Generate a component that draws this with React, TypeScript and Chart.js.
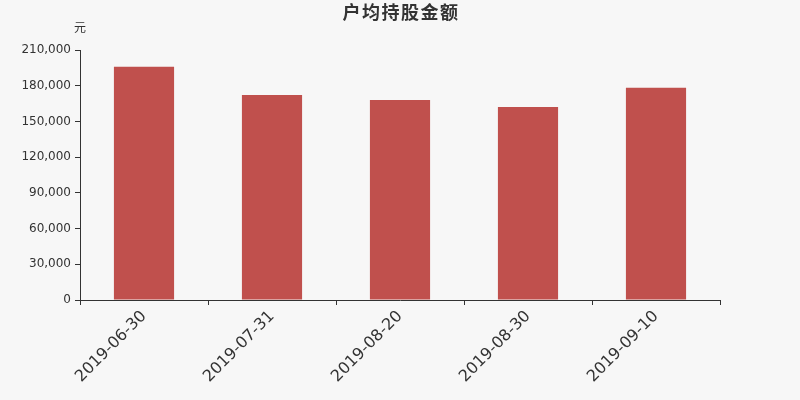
import React, { useEffect, useRef } from "react";
import Chart from "chart.js/auto";

const dates = ["2019-06-30", "2019-07-31", "2019-08-20", "2019-08-30", "2019-09-10"];
const amounts = [196000, 172200, 168000, 162100, 178300];
const chartTitle = "户均持股金额";
const unitLabel = "元";

const FONT = '"DejaVu Sans", "Noto Sans CJK SC", sans-serif';
const TEXT = "#333333";
const BG = "#f7f7f7";

// fond + titre + unité dessinés directement sur le canvas
const decorPlugin = {
  id: "decor",
  beforeDraw(chart: Chart) {
    const { ctx, width, height } = chart;
    ctx.save();
    ctx.fillStyle = BG;
    ctx.fillRect(0, 0, width, height);
    ctx.restore();
  },
  afterDraw(chart: Chart) {
    const { ctx, chartArea } = chart;
    ctx.save();
    ctx.fillStyle = TEXT;
    ctx.textAlign = "center";
    ctx.textBaseline = "middle";
    ctx.font = `bold 18px ${FONT}`;
    (ctx as any).letterSpacing = "1.5px";
    ctx.fillText(chartTitle, chart.width / 2 + 1, 14);
    (ctx as any).letterSpacing = "0px";
    ctx.font = `12px ${FONT}`;
    ctx.fillText(unitLabel, chartArea.left, 29);
    ctx.restore();
  },
};

export default function App() {
  const canvasRef = useRef<HTMLCanvasElement>(null);
  const chartInstance = useRef<Chart | null>(null);

  useEffect(() => {
    document.body.style.margin = "0";
    document.body.style.background = BG;
    if (!canvasRef.current) return;
    const ctx = canvasRef.current.getContext("2d");
    if (!ctx) return;

    chartInstance.current = new Chart(ctx, {
      type: "bar",
      data: {
        labels: dates,
        datasets: [
          {
            label: chartTitle,
            data: amounts,
            backgroundColor: "#c0504d",
            borderWidth: 0,
            barPercentage: 0.47,
            categoryPercentage: 1,
          },
        ],
      },
      options: {
        responsive: false,
        animation: false,
        layout: { padding: { top: 50, right: 80, bottom: 0, left: 0 } },
        plugins: {
          legend: { display: false },
          title: { display: false },
          tooltip: { enabled: false },
        },
        scales: {
          x: {
            afterFit: (scale: any) => {
              scale.height = 100;
            },
            border: { display: true, color: TEXT, width: 1 },
            grid: {
              display: true,
              drawOnChartArea: false,
              drawTicks: true,
              tickLength: 5,
              color: TEXT,
              offset: true,
            },
            ticks: {
              color: TEXT,
              font: { family: FONT, size: 16 },
              minRotation: 45,
              maxRotation: 45,
              padding: 2,
            },
          },
          y: {
            min: 0,
            max: 210000,
            afterFit: (scale: any) => {
              scale.width = 80;
            },
            border: { display: true, color: TEXT, width: 1 },
            grid: {
              display: true,
              drawOnChartArea: false,
              drawTicks: true,
              tickLength: 5,
              color: TEXT,
            },
            ticks: {
              stepSize: 30000,
              color: TEXT,
              font: { family: FONT, size: 12 },
              padding: 4,
            },
          },
        },
      },
      plugins: [decorPlugin],
    });

    return () => {
      if (chartInstance.current) {
        chartInstance.current.destroy();
      }
    };
  }, []);

  return (
    <div style={{ width: 800, height: 400 }}>
      <canvas ref={canvasRef} width={800} height={400}></canvas>
    </div>
  );
}
